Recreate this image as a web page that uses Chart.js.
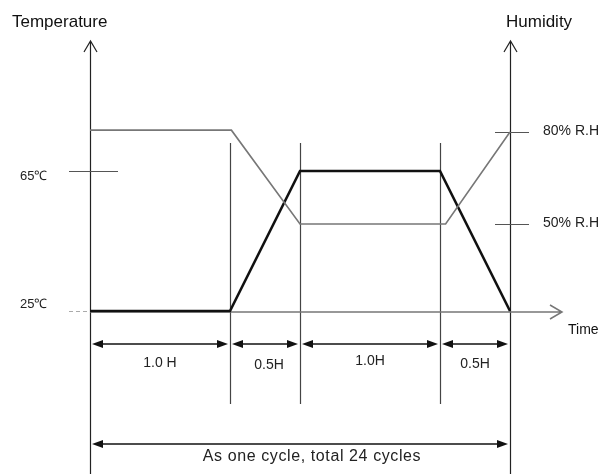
<!DOCTYPE html>
<html>
<head>
<meta charset="utf-8">
<script src="https://cdn.jsdelivr.net/npm/chart.js@4.4.1/dist/chart.umd.min.js"></script>
<style>
  html, body { margin: 0; padding: 0; background: #fff; }
  #wrap { width: 601px; height: 474px; position: relative; }
</style>
</head>
<body>
<div id="wrap"><canvas id="cycleChart"></canvas></div>
<script>
// temperature profile (hours, degC)
const timeH = [0, 1, 1.5, 2.5, 3];
const tempC = [25, 25, 65, 65, 25];
// humidity profile (hours, %RH)
const humTime = [0, 1.01, 1.5, 2.54, 3];
const humRH = [80.6, 80.6, 50, 50, 80];
// axis marks
const tempTicks = [65, 25];
const tempTickLabels = ['65\u2103', '25\u2103'];
const humTicks = [80, 50];
const humTickLabels = ['80% R.H', '50% R.H'];
// phases along the time axis
const phaseEdges = [0, 1, 1.5, 2.5, 3];
const phaseLabels = ['1.0 H', '0.5H', '1.0H', '0.5H'];
const cycleLabel = 'As one cycle, total 24 cycles';

const FONT = '"Liberation Sans", Arial, sans-serif';

function filledHead(ctx, x, y, dir) {
  ctx.beginPath();
  ctx.moveTo(x, y);
  ctx.lineTo(x - dir * 11, y - 4);
  ctx.lineTo(x - dir * 11, y + 4);
  ctx.closePath();
  ctx.fill();
}

function dimArrow(ctx, x1, x2, y) {
  const a = x1 + 2, b = x2 - 2;
  ctx.beginPath();
  ctx.moveTo(a + 8, y);
  ctx.lineTo(b - 8, y);
  ctx.stroke();
  filledHead(ctx, a, y, -1);
  filledHead(ctx, b, y, 1);
}

const diagram = {
  id: 'diagram',
  beforeDatasetsDraw(chart) {
    const ctx = chart.ctx;
    const xs = chart.scales.x, ys = chart.scales.y, yh = chart.scales.y1;
    const top = chart.chartArea.top;
    const base = chart.chartArea.bottom;
    ctx.save();
    ctx.lineCap = 'butt';

    // phase divider lines
    ctx.strokeStyle = '#444';
    ctx.lineWidth = 1.2;
    phaseEdges.slice(1, -1).forEach(t => {
      const px = Math.round(xs.getPixelForValue(t)) + 0.5;
      ctx.beginPath();
      ctx.moveTo(px, 143);
      ctx.lineTo(px, 404);
      ctx.stroke();
    });

    // vertical axes with open arrow heads
    ctx.strokeStyle = '#222';
    ctx.lineWidth = 1.2;
    [phaseEdges[0], phaseEdges[phaseEdges.length - 1]].forEach(t => {
      const px = Math.round(xs.getPixelForValue(t)) + 0.5;
      ctx.beginPath();
      ctx.moveTo(px, top + 1);
      ctx.lineTo(px, 474);
      ctx.moveTo(px - 6.5, top + 12);
      ctx.lineTo(px, top + 1);
      ctx.lineTo(px + 6.5, top + 12);
      ctx.stroke();
    });

    // time axis
    const x0 = xs.getPixelForValue(0);
    ctx.strokeStyle = '#777';
    ctx.lineWidth = 1.5;
    ctx.beginPath();
    ctx.moveTo(x0, base + 1);
    ctx.lineTo(562, base + 1);
    ctx.moveTo(550, base - 6);
    ctx.lineTo(562, base + 1);
    ctx.lineTo(550, base + 8);
    ctx.stroke();

    // temperature marks
    ctx.strokeStyle = '#555';
    ctx.lineWidth = 1.2;
    tempTicks.forEach(v => {
      const py = Math.round(ys.getPixelForValue(v)) + 0.5;
      if (v === ys.min) {
        ctx.strokeStyle = '#aaa';
        ctx.setLineDash([4, 3]);
        ctx.beginPath();
        ctx.moveTo(69, py);
        ctx.lineTo(x0 + 18, py);
        ctx.stroke();
        ctx.setLineDash([]);
        ctx.strokeStyle = '#555';
      } else {
        ctx.beginPath();
        ctx.moveTo(69, py);
        ctx.lineTo(118, py);
        ctx.stroke();
      }
    });
    // humidity marks
    const xr = xs.getPixelForValue(3);
    humTicks.forEach(v => {
      const py = Math.round(yh.getPixelForValue(v)) + 0.5;
      ctx.beginPath();
      ctx.moveTo(xr - 15, py);
      ctx.lineTo(xr + 19, py);
      ctx.stroke();
    });

    // dimension arrows
    ctx.strokeStyle = '#111';
    ctx.fillStyle = '#111';
    ctx.lineWidth = 1.3;
    for (let i = 0; i < phaseEdges.length - 1; i++) {
      dimArrow(ctx, xs.getPixelForValue(phaseEdges[i]), xs.getPixelForValue(phaseEdges[i + 1]), 344);
    }
    dimArrow(ctx, xs.getPixelForValue(phaseEdges[0]), xs.getPixelForValue(phaseEdges[phaseEdges.length - 1]), 444);

    // texts
    ctx.fillStyle = '#111';
    ctx.textBaseline = 'middle';
    ctx.textAlign = 'left';
    ctx.font = '17px ' + FONT;
    ctx.fillText('Temperature', 12, 22);
    ctx.fillText('Humidity', 506, 22);
    ctx.font = '14px ' + FONT;
    ctx.fillText('Time', 568, 330);

    ctx.font = '13px ' + FONT;
    ctx.fillStyle = '#222';
    tempTicks.forEach((v, i) => {
      const py = ys.getPixelForValue(v);
      ctx.fillText(tempTickLabels[i], 20, v === ys.min ? py - 7 : py + 5);
    });
    ctx.font = '14px ' + FONT;
    humTicks.forEach((v, i) => {
      const py = yh.getPixelForValue(v);
      ctx.fillText(humTickLabels[i], 543, py - 1);
    });

    ctx.textAlign = 'center';
    ctx.font = '14px ' + FONT;
    const labelDy = [19, 21, 17, 20];
    phaseLabels.forEach((lab, i) => {
      const cx = (xs.getPixelForValue(phaseEdges[i]) + xs.getPixelForValue(phaseEdges[i + 1])) / 2;
      ctx.fillText(lab, cx + (i === 1 ? 4 : 0), 344 + labelDy[i]);
    });
    ctx.font = '16px ' + FONT;
    ctx.letterSpacing = '0.6px';
    ctx.fillText(cycleLabel, (xs.getPixelForValue(0) + xs.getPixelForValue(3)) / 2 + 12, 457);
    ctx.letterSpacing = '0px';

    ctx.restore();
  }
};

new Chart(document.getElementById('cycleChart'), {
  type: 'line',
  data: {
    datasets: [
      {
        label: 'Humidity',
        data: humTime.map((t, i) => ({ x: t, y: humRH[i] })),
        yAxisID: 'y1',
        borderColor: '#777',
        borderWidth: 1.6,
        pointRadius: 0,
        tension: 0,
        clip: false,
      },
      {
        label: 'Temperature',
        data: timeH.map((t, i) => ({ x: t, y: tempC[i] })),
        yAxisID: 'y',
        borderColor: '#111',
        borderWidth: 2.6,
        pointRadius: 0,
        tension: 0,
        clip: false,
      },
    ],
  },
  plugins: [diagram],
  options: {
    responsive: true,
    maintainAspectRatio: false,
    animation: false,
    layout: {
      padding: { left: 90, right: 91, top: 40, bottom: 163 },
    },
    plugins: {
      legend: { display: false },
      tooltip: { enabled: false },
    },
    scales: {
      x: { type: 'linear', min: 0, max: 3, display: false },
      y: { min: 25, max: 25 + 271 / 3.5, display: false },
      y1: { min: 80 - 179 * 30 / 92, max: 110, display: false },
    },
  },
});
</script>
</body>
</html>
